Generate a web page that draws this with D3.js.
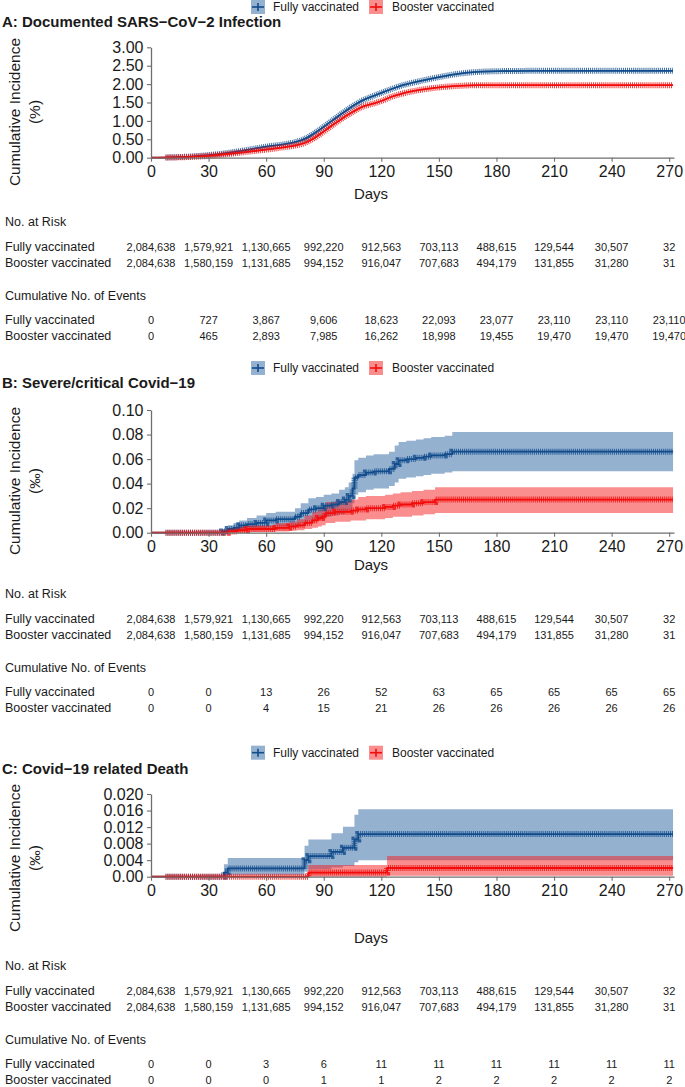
<!DOCTYPE html>
<html>
<head>
<meta charset="utf-8">
<script src="https://cdn.jsdelivr.net/npm/d3@7"></script>
<style>
body { margin: 0; background: #fff; }
text { font-family: "Liberation Sans", Arial, Helvetica, sans-serif; fill: #1a1a1a; }
</style>
</head>
<body>
<svg id="chart" width="685" height="1087"></svg>
<script>
// ---- data ----
const groups = ["Fully vaccinated", "Booster vaccinated"];
const dayTicks = [0, 30, 60, 90, 120, 150, 180, 210, 240, 270];

// number at risk (same in all three panels)
const riskFully   = [2084638, 1579921, 1130665, 992220, 912563, 703113, 488615, 129544, 30507, 32];
const riskBooster = [2084638, 1580159, 1131685, 994152, 916047, 707683, 494179, 131855, 31280, 31];

// cumulative events
const eventsInfFully    = [0, 727, 3867, 9606, 18623, 22093, 23077, 23110, 23110, 23110];
const eventsInfBooster  = [0, 465, 2893, 7985, 16262, 18998, 19455, 19470, 19470, 19470];
const eventsSevFully    = [0, 0, 13, 26, 52, 63, 65, 65, 65, 65];
const eventsSevBooster  = [0, 0, 4, 15, 21, 26, 26, 26, 26, 26];
const eventsDeathFully  = [0, 0, 3, 6, 11, 11, 11, 11, 11, 11];
const eventsDeathBooster= [0, 0, 0, 1, 1, 2, 2, 2, 2, 2];

// A: infection, cumulative incidence (%)
const infDays = [0,10,20,30,40,50,60,70,75,80,85,90,95,100,105,110,115,120,125,130,140,150,160,170,180,200,272];
const infFully     = [0,0.01,0.03,0.07,0.13,0.21,0.30,0.37,0.42,0.51,0.66,0.84,1.03,1.22,1.40,1.55,1.66,1.76,1.86,1.95,2.08,2.19,2.28,2.33,2.35,2.36,2.36];
const infFullyLo   = [0,0.005,0.02,0.06,0.12,0.19,0.28,0.35,0.40,0.49,0.64,0.82,1.01,1.20,1.38,1.53,1.64,1.74,1.84,1.93,2.06,2.17,2.26,2.31,2.33,2.34,2.34];
const infFullyHi   = [0,0.015,0.04,0.08,0.14,0.23,0.32,0.39,0.44,0.53,0.68,0.86,1.05,1.24,1.42,1.57,1.68,1.78,1.88,1.97,2.10,2.21,2.30,2.35,2.37,2.38,2.38];
const infBooster   = [0,0.005,0.02,0.05,0.10,0.16,0.22,0.29,0.33,0.40,0.53,0.71,0.90,1.08,1.24,1.38,1.46,1.54,1.65,1.73,1.84,1.91,1.95,1.97,1.97,1.97,1.97];
const infBoosterLo = [0,0.002,0.01,0.04,0.09,0.14,0.20,0.27,0.31,0.38,0.51,0.69,0.88,1.06,1.22,1.36,1.44,1.52,1.63,1.71,1.82,1.89,1.93,1.95,1.95,1.95,1.95];
const infBoosterHi = [0,0.008,0.03,0.06,0.11,0.18,0.24,0.31,0.35,0.42,0.55,0.73,0.92,1.10,1.26,1.40,1.48,1.56,1.67,1.75,1.86,1.93,1.97,1.99,1.99,1.99,1.99];

// B: severe/critical (per mille), step functions
const sevFullyDays = [0,37,40,43,46,50,55,60,65,70,75,78,82,86,90,94,98,101,103,105,106,108,112,116,120,124,127,129,133,138,142,146,150,153,157,272];
const sevFully     = [0,0.001,0.003,0.004,0.006,0.007,0.008,0.010,0.011,0.011,0.013,0.016,0.019,0.020,0.022,0.023,0.025,0.027,0.030,0.036,0.045,0.047,0.049,0.050,0.050,0.052,0.056,0.059,0.060,0.061,0.062,0.063,0.063,0.064,0.066,0.066];
const sevFullyLo   = [0,0,0.0005,0.001,0.002,0.002,0.003,0.004,0.005,0.005,0.006,0.008,0.010,0.011,0.013,0.014,0.015,0.017,0.019,0.024,0.031,0.033,0.035,0.036,0.036,0.038,0.041,0.044,0.045,0.046,0.047,0.048,0.048,0.049,0.050,0.050];
const sevFullyHi   = [0,0.003,0.006,0.008,0.010,0.012,0.014,0.016,0.017,0.017,0.020,0.024,0.028,0.029,0.031,0.032,0.035,0.037,0.041,0.048,0.059,0.061,0.063,0.064,0.064,0.066,0.071,0.074,0.075,0.076,0.077,0.078,0.078,0.079,0.082,0.082];
const sevBoosterDays = [0,40,45,50,58,65,72,76,80,84,87,89,91,96,100,104,108,112,118,122,126,130,136,142,146,148,272];
const sevBooster     = [0,0.001,0.002,0.003,0.003,0.004,0.005,0.006,0.008,0.010,0.012,0.013,0.016,0.017,0.017,0.018,0.019,0.020,0.020,0.021,0.022,0.023,0.024,0.025,0.025,0.027,0.027];
const sevBoosterLo   = [0,0,0,0.0005,0.0005,0.001,0.0015,0.002,0.003,0.004,0.005,0.006,0.008,0.009,0.009,0.010,0.010,0.011,0.011,0.012,0.013,0.013,0.014,0.015,0.015,0.016,0.016];
const sevBoosterHi   = [0,0.003,0.005,0.006,0.006,0.008,0.009,0.011,0.014,0.017,0.019,0.021,0.025,0.026,0.026,0.027,0.029,0.030,0.030,0.031,0.032,0.033,0.034,0.035,0.035,0.037,0.037];

// C: death (per mille), step functions
const deathFullyDays = [0,38,40,80,82,94,100,106,108,272];
const deathFully     = [0,0.001,0.002,0.004,0.005,0.006,0.007,0.009,0.0103,0.0103];
const deathFullyLo   = [0,0,0.0004,0.0012,0.0018,0.0022,0.0026,0.0035,0.004,0.004];
const deathFullyHi   = [0,0.003,0.0045,0.0075,0.009,0.0105,0.0121,0.015,0.0163,0.0163];
const deathBoosterDays = [0,82,123,272];
const deathBooster     = [0,0.001,0.0021,0.0021];
const deathBoosterLo   = [0,0,0.0002,0.0002];
const deathBoosterHi   = [0,0.0028,0.005,0.005];

const censorFrom = 8, censorTo = 272;

// ---- drawing ----
const colors = [
  { line: "#124c8c", band: "#2b63a2" },
  { line: "#f20d0d", band: "#f51e1e" }
];
const svg = d3.select("#chart");
const x = d3.scaleLinear().domain([0, 272.5]).range([151, 674]);
const fmt = d3.format(",");

function zip(t, v, lo, hi) {
  return t.map((d, i) => ({ t: d, v: v[i], lo: lo[i], hi: hi[i] }));
}

const panels = [
  {
    id: "A", title: "A: Documented SARS\u2212CoV\u22122 Infection", unit: "(%)",
    legendY: 7, titleY: 22, top: 47.3, bottom: 157.7, ymax: 3,
    yticks: [0, 0.5, 1, 1.5, 2, 2.5, 3], yfmt: d3.format(".2f"),
    ylabY: 112, daysY: 194, tableY: 222, curve: d3.curveMonotoneX,
    series: [zip(infDays, infFully, infFullyLo, infFullyHi), zip(infDays, infBooster, infBoosterLo, infBoosterHi)],
    events: [eventsInfFully, eventsInfBooster]
  },
  {
    id: "B", title: "B: Severe/critical Covid\u221219", unit: "(\u2030)",
    legendY: 368, titleY: 383, top: 410, bottom: 532.7, ymax: 0.1,
    yticks: [0, 0.02, 0.04, 0.06, 0.08, 0.1], yfmt: d3.format(".2f"),
    ylabY: 481, daysY: 565, tableY: 594, curve: d3.curveStepAfter,
    series: [zip(sevFullyDays, sevFully, sevFullyLo, sevFullyHi), zip(sevBoosterDays, sevBooster, sevBoosterLo, sevBoosterHi)],
    events: [eventsSevFully, eventsSevBooster]
  },
  {
    id: "C", title: "C: Covid\u221219 related Death", unit: "(\u2030)",
    legendY: 752.7, titleY: 769, top: 794, bottom: 876.7, ymax: 0.02,
    yticks: [0, 0.004, 0.008, 0.012, 0.016, 0.02], yfmt: d => d === 0 ? "0.00" : d3.format(".3f")(d),
    ylabY: 858, daysY: 938, tableY: 966, curve: d3.curveStepAfter,
    series: [zip(deathFullyDays, deathFully, deathFullyLo, deathFullyHi), zip(deathBoosterDays, deathBooster, deathBoosterLo, deathBoosterHi)],
    events: [eventsDeathFully, eventsDeathBooster]
  }
];

function drawLegend(cy) {
  const g = svg.append("g");
  const keyX = [251, 369], textX = [273, 392];
  groups.forEach((name, i) => {
    const k = g.append("g").attr("transform", `translate(${keyX[i]},${cy - 7})`);
    k.append("rect").attr("width", 14).attr("height", 14)
      .attr("fill", colors[i].band).attr("fill-opacity", 0.5);
    k.append("line").attr("x1", 1).attr("x2", 13).attr("y1", 7).attr("y2", 7)
      .attr("stroke", colors[i].line).attr("stroke-width", 1.6);
    k.append("line").attr("x1", 7).attr("x2", 7).attr("y1", 3).attr("y2", 11)
      .attr("stroke", colors[i].line).attr("stroke-width", 1.6);
    g.append("text").attr("x", textX[i]).attr("y", cy).attr("dy", "0.35em")
      .attr("font-size", 12).text(name);
  });
}

function drawPanel(p) {
  drawLegend(p.legendY);
  svg.append("text").attr("x", 2).attr("y", p.titleY).attr("dy", "0.35em")
    .attr("font-size", 15).attr("font-weight", "bold").text(p.title);

  const y = d3.scaleLinear().domain([0, p.ymax]).range([p.bottom, p.top]);
  const area = d3.area().curve(p.curve).x(d => x(d.t)).y0(d => y(d.lo)).y1(d => y(d.hi));
  const line = d3.line().curve(p.curve).x(d => x(d.t)).y(d => y(d.v));

  svg.append("clipPath").attr("id", "cens" + p.id)
    .append("rect").attr("x", x(censorFrom) - 1).attr("y", p.top - 10)
    .attr("width", x(censorTo) - x(censorFrom) + 4).attr("height", p.bottom - p.top + 20);

  const g = svg.append("g");
  p.series.forEach((s, i) => {
    g.append("path").datum(s).attr("d", area)
      .attr("fill", colors[i].band).attr("fill-opacity", 0.5);
  });
  p.series.forEach((s, i) => {
    g.append("path").datum(s).attr("d", line).attr("fill", "none")
      .attr("stroke", colors[i].line).attr("stroke-width", 1.8);
    // censoring "+" marks
    g.append("path").datum(s).attr("d", line).attr("fill", "none")
      .attr("clip-path", `url(#cens${p.id})`)
      .attr("stroke", colors[i].line).attr("stroke-width", 6)
      .attr("stroke-dasharray", "1 0.95").attr("stroke-opacity", 0.8);
  });

  // axes
  const xa = svg.append("g").attr("transform", `translate(0,${p.bottom})`)
    .call(d3.axisBottom(x).tickValues(dayTicks).tickSize(4).tickPadding(4).tickSizeOuter(0));
  const ya = svg.append("g").attr("transform", `translate(${x(0)},0)`)
    .call(d3.axisLeft(y).tickValues(p.yticks).tickFormat(p.yfmt).tickSize(4).tickPadding(3.5).tickSizeOuter(0));
  [xa, ya].forEach(a => {
    a.select(".domain").attr("stroke", "#6e6e6e").attr("stroke-width", 1.3);
    a.selectAll(".tick line").attr("stroke", "#6e6e6e").attr("stroke-width", 1.1);
    a.selectAll(".tick text").attr("font-size", 16).attr("fill", "#1a1a1a")
      .attr("font-family", "'Liberation Sans', Arial, sans-serif");
  });

  // axis titles
  const yl = svg.append("g").attr("transform", `translate(15,${p.ylabY}) rotate(-90)`);
  yl.append("text").attr("text-anchor", "middle").attr("dy", "0.35em")
    .attr("font-size", 15.5).text("Cumulative Incidence");
  yl.append("text").attr("text-anchor", "middle").attr("y", 20).attr("dy", "0.35em")
    .attr("font-size", 15.5).text(p.unit);
  svg.append("text").attr("x", 371).attr("y", p.daysY).attr("dy", "0.35em")
    .attr("text-anchor", "middle").attr("font-size", 15).text("Days");

  // risk table
  const t = svg.append("g");
  const rows = [
    { y: 0, label: "No. at Risk" },
    { y: 25, label: groups[0], values: riskFully },
    { y: 41, label: groups[1], values: riskBooster },
    { y: 74, label: "Cumulative No. of Events" },
    { y: 98, label: groups[0], values: p.events[0] },
    { y: 114, label: groups[1], values: p.events[1] }
  ];
  rows.forEach(r => {
    t.append("text").attr("x", 5).attr("y", p.tableY + r.y).attr("dy", "0.35em")
      .attr("font-size", 12.5).text(r.label);
    if (r.values) {
      t.selectAll(null).data(r.values).enter().append("text")
        .attr("x", (d, i) => x(dayTicks[i])).attr("y", p.tableY + r.y).attr("dy", "0.35em")
        .attr("text-anchor", "middle").attr("font-size", 11).text(d => fmt(d));
    }
  });
}

panels.forEach(drawPanel);
</script>
</body>
</html>
